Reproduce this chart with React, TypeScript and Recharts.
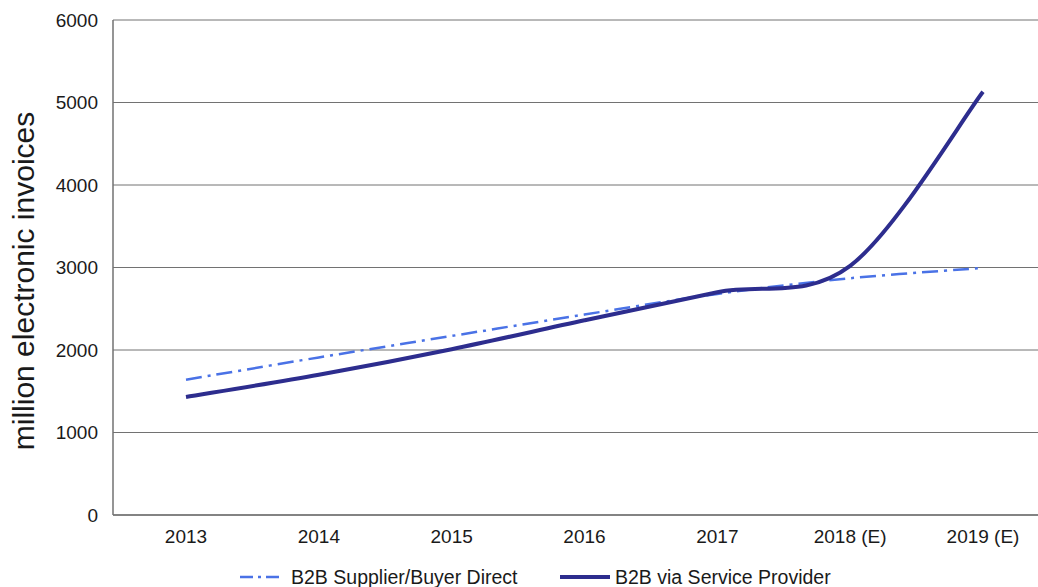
import { LineChart, Line, XAxis, YAxis, CartesianGrid, Legend } from 'recharts';

const years = ['2013', '2014', '2015', '2016', '2017', '2018 (E)', '2019 (E)'];
const supplierDirect = [1640, 1910, 2170, 2430, 2680, 2870, 2995];
const serviceProvider = [1430, 1700, 2010, 2360, 2700, 3020, 5130];
const yTicks = [0, 1000, 2000, 3000, 4000, 5000, 6000];

const COLORS = {
  direct: '#4a72e6',
  provider: '#2d2d8e',
  grid: '#727272',
  text: '#1a1a1a',
};

const FONT = '"Liberation Sans", Arial, sans-serif';

const data = years.map((year, i) => ({
  year,
  direct: supplierDirect[i],
  provider: serviceProvider[i],
}));

// Excel-style smoothed line (Catmull-Rom through every point)
const smoothCurve = (context: any) => {
  let pts: number[][] = [];
  return {
    areaStart() {},
    areaEnd() {},
    lineStart() {
      pts = [];
    },
    point(x: number, y: number) {
      pts.push([+x, +y]);
    },
    lineEnd() {
      if (!pts.length) return;
      context.moveTo(pts[0][0], pts[0][1]);
      for (let i = 0; i < pts.length - 1; i++) {
        const p0 = pts[i - 1] || pts[i];
        const p1 = pts[i];
        const p2 = pts[i + 1];
        const p3 = pts[i + 2] || pts[i + 1];
        context.bezierCurveTo(
          p1[0] + (p2[0] - p0[0]) / 6,
          p1[1] + (p2[1] - p0[1]) / 6,
          p2[0] - (p3[0] - p1[0]) / 6,
          p2[1] - (p3[1] - p1[1]) / 6,
          p2[0],
          p2[1]
        );
      }
    },
  };
};

const LegendContent = () => (
  <div style={{ position: 'relative', width: 1038, height: 24, fontFamily: FONT, fontSize: 19.5, color: COLORS.text }}>
    <div style={{ position: 'absolute', left: 240, top: 2, display: 'flex', alignItems: 'center', height: 24 }}>
      <svg width={44} height={10}>
        <line x1={0} y1={5} x2={44} y2={5} stroke={COLORS.direct} strokeWidth={2.5} strokeDasharray="13 5 3 5" />
      </svg>
      <span style={{ marginLeft: 7 }}>B2B Supplier/Buyer Direct</span>
    </div>
    <div style={{ position: 'absolute', left: 560, top: 2, display: 'flex', alignItems: 'center', height: 24 }}>
      <svg width={50} height={10}>
        <line x1={0} y1={5} x2={50} y2={5} stroke={COLORS.provider} strokeWidth={4} />
      </svg>
      <span style={{ marginLeft: 5 }}>B2B via Service Provider</span>
    </div>
  </div>
);

const YLabel = () => (
  <text
    x={34}
    y={281}
    transform="rotate(-90, 34, 281)"
    textAnchor="middle"
    fontFamily={FONT}
    fontSize={30}
    fill={COLORS.text}
  >
    million electronic invoices
  </text>
);

export default function App() {
  return (
    <div style={{ position: 'absolute', left: 0, top: 0, width: 1038, height: 587, background: '#fff' }}>
      <LineChart width={1038} height={587} data={data} margin={{ top: 20, right: 0, bottom: 0, left: 43 }}>
        <CartesianGrid vertical={false} stroke={COLORS.grid} strokeWidth={1} />
        <XAxis
          dataKey="year"
          height={48}
          padding={{ left: 73, right: 55 }}
          tickLine={false}
          tickSize={6}
          tickMargin={9}
          axisLine={{ stroke: COLORS.grid, strokeWidth: 1.5 }}
          tick={{ fill: COLORS.text, fontSize: 19, fontFamily: FONT }}
        />
        <YAxis
          width={70}
          domain={[0, 6000]}
          ticks={yTicks}
          interval={0}
          tickLine={false}
          tickSize={6}
          tickMargin={9}
          axisLine={{ stroke: COLORS.grid, strokeWidth: 1.5 }}
          tick={{ fill: COLORS.text, fontSize: 19, fontFamily: FONT }}
          label={<YLabel />}
        />
        <Legend verticalAlign="bottom" content={<LegendContent />} wrapperStyle={{ left: 0, width: 1038, bottom: 0 }} />
        <Line
          dataKey="direct"
          name="B2B Supplier/Buyer Direct"
          type={smoothCurve as any}
          stroke={COLORS.direct}
          strokeWidth={2.5}
          strokeDasharray="16 6 3 6"
          dot={false}
          isAnimationActive={false}
        />
        <Line
          dataKey="provider"
          name="B2B via Service Provider"
          type={smoothCurve as any}
          stroke={COLORS.provider}
          strokeWidth={4}
          dot={false}
          isAnimationActive={false}
        />
      </LineChart>
    </div>
  );
}
